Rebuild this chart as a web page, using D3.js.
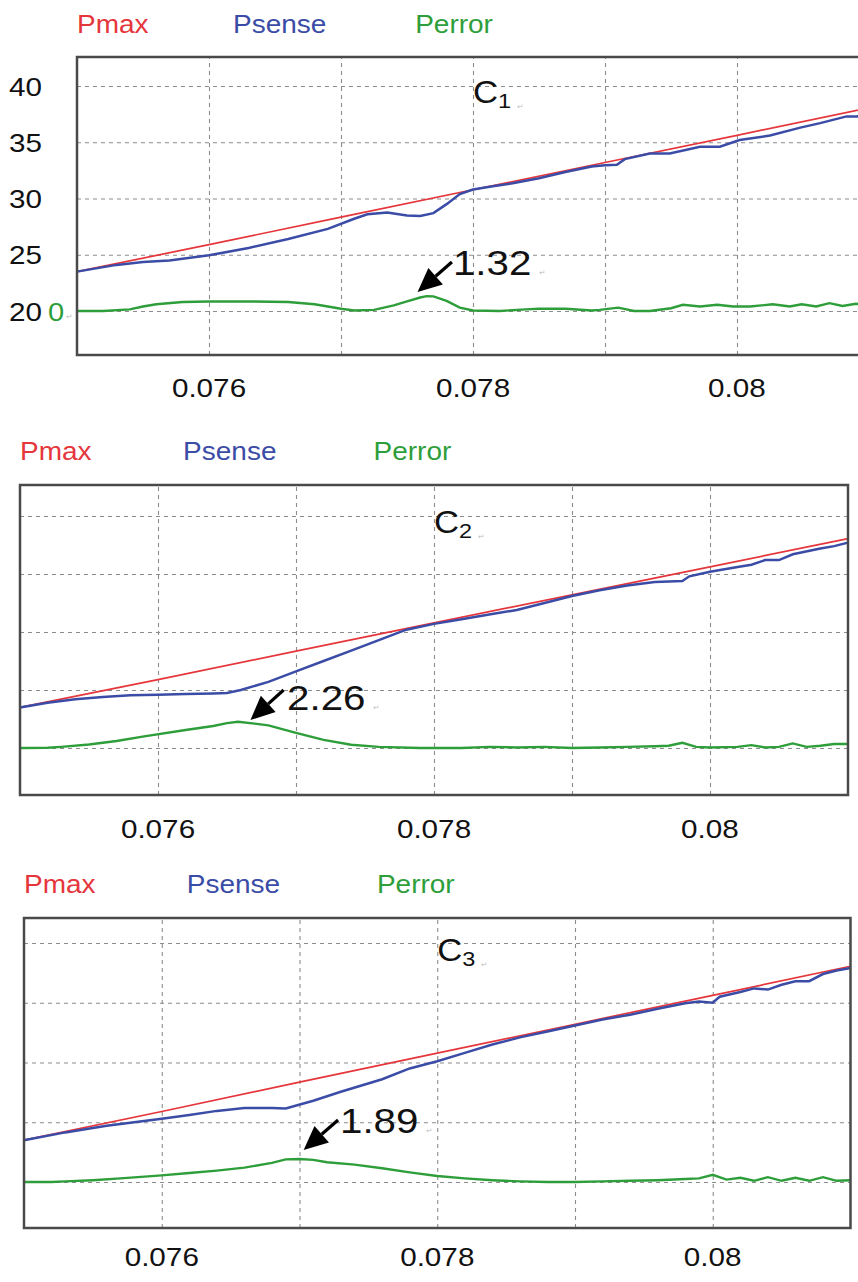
<!DOCTYPE html>
<html lang="en">
<head>
  <meta charset="utf-8">
  <title>Pmax / Psense / Perror</title>
  <script src="https://cdn.jsdelivr.net/npm/d3@7/dist/d3.min.js"></script>
  <style>
    body { margin: 0; background: #fff; }
    svg { display: block; }
  </style>
</head>
<body>
  <svg width="858" height="1282" id="mainsvg"></svg>
  <script>
    const svg = d3.select('#mainsvg');

    // ---- data ----
    const seriesNames = ['Pmax', 'Psense', 'Perror'];
    const xTicks = [0.076, 0.078, 0.08];
    const yTicks = [20, 25, 30, 35, 40];
    const errBase = 20;   // Perror is drawn with its zero on the 20 gridline

    // Pmax is the same ramp in the three cases
    const pmax = [
      [0.0750, 23.5], [0.0760, 25.9], [0.0770, 28.35], [0.0780, 30.78],
      [0.0790, 33.2], [0.0800, 35.62], [0.0810, 38.05]
    ];

    const senseC1 = [
      [0.0750, 23.5], [0.0753, 24.1], [0.0755, 24.35], [0.0757, 24.5], [0.0760, 24.95],
      [0.0763, 25.6], [0.0766, 26.4], [0.0769, 27.3], [0.0771, 28.2], [0.0772, 28.6],
      [0.07735, 28.75], [0.0775, 28.5], [0.0776, 28.45], [0.0777, 28.7], [0.0778, 29.5],
      [0.0779, 30.4], [0.0780, 30.8], [0.07815, 31.1], [0.0783, 31.35], [0.0785, 31.8],
      [0.0787, 32.35], [0.0789, 32.85], [0.0790, 32.95], [0.07909, 33.0], [0.07915, 33.5],
      [0.07934, 34.0], [0.07949, 34.0], [0.07972, 34.6], [0.07987, 34.6], [0.08002, 35.2],
      [0.08025, 35.6], [0.08048, 36.3], [0.08063, 36.7], [0.08083, 37.3], [0.08091, 37.3],
      [0.0810, 37.6]
    ];
    const errC1 = [
      [0.0750, 0], [0.0752, 0], [0.0754, 0.15], [0.0755, 0.4], [0.0756, 0.6], [0.0758, 0.8],
      [0.0760, 0.85], [0.0763, 0.85], [0.0766, 0.8], [0.0768, 0.6], [0.0770, 0.2],
      [0.0771, 0.05], [0.07725, 0.1], [0.0774, 0.5], [0.0775, 0.85], [0.0776, 1.2],
      [0.07765, 1.32], [0.0777, 1.3], [0.0778, 0.9], [0.0779, 0.3], [0.0780, 0.05],
      [0.0782, 0], [0.0784, 0.15], [0.0785, 0.2], [0.0787, 0.2], [0.0789, 0.05],
      [0.07896, 0.1], [0.0791, 0.3], [0.07922, 0], [0.07934, 0], [0.0795, 0.25],
      [0.07959, 0.55], [0.07972, 0.4], [0.07985, 0.55], [0.07997, 0.4], [0.0801, 0.4],
      [0.08027, 0.6], [0.0804, 0.4], [0.08049, 0.6], [0.0806, 0.4], [0.0807, 0.7],
      [0.0808, 0.45], [0.0809, 0.65], [0.0810, 0.5]
    ];

    const senseC2 = [
      [0.0750, 23.5], [0.0752, 23.9], [0.0754, 24.2], [0.0756, 24.4], [0.0758, 24.55],
      [0.0760, 24.6], [0.0762, 24.65], [0.0764, 24.7], [0.0765, 24.75], [0.0766, 25.0],
      [0.0768, 25.7], [0.0770, 26.6], [0.0772, 27.5], [0.0774, 28.4], [0.0776, 29.3],
      [0.0778, 30.2], [0.0780, 30.7], [0.0782, 31.1], [0.0784, 31.5], [0.0786, 31.9],
      [0.0788, 32.5], [0.0790, 33.1], [0.0792, 33.6], [0.0794, 34.0], [0.0796, 34.3],
      [0.0798, 34.4], [0.07985, 34.8], [0.0800, 35.2], [0.0802, 35.6], [0.0803, 35.8],
      [0.0804, 36.2], [0.0805, 36.2], [0.0806, 36.7], [0.0808, 37.2], [0.0809, 37.4],
      [0.0810, 37.7]
    ];
    const errC2 = [
      [0.0750, 0], [0.0752, 0.02], [0.0753, 0.1], [0.0755, 0.3], [0.0757, 0.6], [0.0759, 1.0],
      [0.0762, 1.55], [0.0764, 1.9], [0.0765, 2.15], [0.07658, 2.26], [0.0767, 2.1],
      [0.0768, 1.95], [0.0770, 1.3], [0.0772, 0.7], [0.0774, 0.28], [0.0776, 0.1],
      [0.0779, 0], [0.0782, 0], [0.0784, 0.1], [0.0786, 0.05], [0.0788, 0.1], [0.0790, 0],
      [0.0792, 0.05], [0.0794, 0.1], [0.0796, 0.15], [0.0797, 0.2], [0.0798, 0.45],
      [0.0799, 0.1], [0.0800, 0.05], [0.0802, 0.1], [0.0803, 0.25], [0.0804, 0.05],
      [0.0805, 0.1], [0.0806, 0.4], [0.0807, 0.1], [0.0808, 0.2], [0.0809, 0.35], [0.0810, 0.35]
    ];

    const senseC3 = [
      [0.0750, 23.5], [0.0753, 24.15], [0.0756, 24.7], [0.0758, 25.0], [0.0760, 25.3],
      [0.0762, 25.6], [0.0764, 25.95], [0.0766, 26.2], [0.0768, 26.2], [0.0769, 26.15],
      [0.0771, 26.8], [0.0773, 27.55], [0.0776, 28.6], [0.0778, 29.5], [0.0780, 30.1],
      [0.0782, 30.8], [0.0784, 31.5], [0.0786, 32.1], [0.0788, 32.6], [0.0790, 33.1],
      [0.0792, 33.6], [0.0794, 34.0], [0.0796, 34.5], [0.0798, 34.95], [0.0799, 35.1],
      [0.0800, 35.0], [0.08005, 35.5], [0.0802, 35.9], [0.0803, 36.2], [0.0804, 36.1],
      [0.0805, 36.5], [0.0806, 36.8], [0.0807, 36.8], [0.0808, 37.4], [0.0809, 37.7],
      [0.0810, 37.9]
    ];
    const errC3 = [
      [0.0750, 0], [0.0752, 0], [0.0753, 0.05], [0.0755, 0.15], [0.0757, 0.3], [0.0760, 0.55],
      [0.0762, 0.75], [0.0764, 0.95], [0.0766, 1.2], [0.0768, 1.6], [0.0769, 1.89],
      [0.0770, 1.92], [0.0771, 1.85], [0.0772, 1.65], [0.0774, 1.45], [0.0776, 1.15],
      [0.0778, 0.8], [0.0780, 0.5], [0.0782, 0.3], [0.0784, 0.15], [0.0786, 0.05],
      [0.0788, 0], [0.0790, 0], [0.0792, 0.05], [0.0794, 0.1], [0.0796, 0.15], [0.0798, 0.25],
      [0.0799, 0.3], [0.0800, 0.6], [0.0801, 0.2], [0.0802, 0.35], [0.0803, 0.1], [0.0804, 0.4],
      [0.0805, 0.1], [0.0806, 0.35], [0.0807, 0.1], [0.0808, 0.4], [0.0809, 0.1], [0.0810, 0.15]
    ];

    // case labels and peak-error callouts (arrow tip / tail / text anchor in data units)
    const caseNames = ['1', '2', '3'];
    const peakLabels = ['1.32', '2.26', '1.89'];
    const arrowTips = [[0.07758, 21.69], [0.07667, 22.41], [0.07703, 22.68]];
    const arrowTails = [[0.07784, 24.36], [0.07691, 25.0], [0.07728, 25.19]];
    const labelPos = [[0.077848, 23.2], [0.076935, 23.28], [0.077294, 24.1]];

    // ---- layout ----
    const colors = { Pmax: '#e5363c', Psense: '#3b4ca6', Perror: '#2e9e3a' };
    const font = '"Liberation Sans", Arial, sans-serif';
    const sx = 1.12; // the source picture is a little stretched sideways
    const panels = [
      { left: 77, right: 869, top: 57, bottom: 355, yMin: 16.09, yMax: 42.58, legendY: 33, tickY: 397, showY: true,
        sense: senseC1, err: errC1 },
      { left: 20, right: 848, top: 485, bottom: 795, yMin: 15.95, yMax: 42.67, legendY: 460, tickY: 838, showY: false,
        sense: senseC2, err: errC2 },
      { left: 24, right: 850.5, top: 918, bottom: 1228, yMin: 16.15, yMax: 42.09, legendY: 893, tickY: 1266, showY: false,
        sense: senseC3, err: errC3 }
    ];

    const addText = function (g, x, y, str, size, fill, anchor) {
      return g.append('text')
        .attr('transform', `translate(${x}, ${y}) scale(${sx}, 1)`)
        .attr('font-family', font)
        .attr('font-size', size)
        .attr('fill', fill)
        .attr('text-anchor', anchor || 'start')
        .text(str);
    };

    const renderPanel = function (p, i) {
      const xScale = d3.scaleLinear().domain([0.075, 0.081]).range([p.left, p.right]);
      const yScale = d3.scaleLinear().domain([p.yMin, p.yMax]).range([p.bottom, p.top]);
      const g = svg.append('g').attr('class', 'panel');

      // legend
      const w = p.right - p.left;
      const legendOffsets = [0, 0.197, 0.427];
      seriesNames.forEach((name, k) => {
        addText(g, p.left + legendOffsets[k] * w, p.legendY, name, 25, colors[name]);
      });

      // grid
      const xAxis = d3.axisBottom(xScale)
        .tickValues(d3.range(0.076, 0.0805, 0.001))
        .tickSize(-(p.bottom - p.top)).tickFormat('');
      const yAxis = d3.axisLeft(yScale)
        .tickValues(yTicks).tickSize(-w).tickFormat('');
      const gx = g.append('g').attr('transform', `translate(0, ${p.bottom})`).call(xAxis);
      const gy = g.append('g').attr('transform', `translate(${p.left}, 0)`).call(yAxis);
      [gx, gy].forEach(a => {
        a.selectAll('.domain').remove();
        a.selectAll('.tick line')
          .attr('stroke', '#8c8c8c')
          .attr('stroke-width', 1.1)
          .attr('stroke-dasharray', '4,4');
      });

      // x tick labels
      xTicks.forEach(t => {
        addText(g, xScale(t), p.tickY, String(t), 26.5, '#111', 'middle');
      });

      // y tick labels (first case only)
      if (p.showY) {
        yTicks.forEach(t => {
          addText(g, 42, yScale(t) + 9.5, String(t), 26.5, '#111', 'end');
        });
        addText(g, 48, yScale(errBase) + 9.5, '0', 26, colors.Perror);
        addText(g, 66, yScale(errBase) + 8, '\u21b5', 7, '#bbb');
      }

      // lines
      const line = d3.line().x(d => xScale(d[0])).y(d => yScale(d[1]));
      const errLine = d3.line().x(d => xScale(d[0])).y(d => yScale(errBase + d[1]));
      g.append('path').datum(p.err).attr('d', errLine)
        .attr('fill', 'none').attr('stroke', colors.Perror).attr('stroke-width', 2.4);
      g.append('path').datum(pmax).attr('d', line)
        .attr('fill', 'none').attr('stroke', colors.Pmax).attr('stroke-width', 1.7);
      g.append('path').datum(p.sense).attr('d', line)
        .attr('fill', 'none').attr('stroke', colors.Psense).attr('stroke-width', 2.5);

      // frame
      g.append('rect')
        .attr('x', p.left).attr('y', p.top)
        .attr('width', w).attr('height', p.bottom - p.top)
        .attr('fill', 'none').attr('stroke', '#4a4a4a').attr('stroke-width', 2.5);

      // case label  C1 / C2 / C3
      const cx = xScale(0.078), cy = yScale(38.5);
      const ct = addText(g, cx, cy, '', 31, '#111');
      ct.append('tspan').text('C');
      ct.append('tspan').attr('font-size', 21).attr('dy', 5).text(caseNames[i]);
      addText(g, cx + 44, cy + 6, '\u21b5', 7, '#bbb');

      // peak error callout
      const tip = [xScale(arrowTips[i][0]), yScale(arrowTips[i][1])];
      const tail = [xScale(arrowTails[i][0]), yScale(arrowTails[i][1])];
      const ang = Math.atan2(tail[1] - tip[1], tail[0] - tip[0]);
      const headLen = 24, headHalf = 11;
      const bx = tip[0] + headLen * Math.cos(ang), by = tip[1] + headLen * Math.sin(ang);
      g.append('line')
        .attr('x1', tail[0]).attr('y1', tail[1]).attr('x2', bx).attr('y2', by)
        .attr('stroke', '#000').attr('stroke-width', 3.2);
      const nx = -Math.sin(ang), ny = Math.cos(ang);
      g.append('path')
        .attr('d', `M${tip[0]},${tip[1]}L${bx + nx * headHalf},${by + ny * headHalf}L${bx - nx * headHalf},${by - ny * headHalf}Z`)
        .attr('fill', '#000');
      const lx = xScale(labelPos[i][0]), ly = yScale(labelPos[i][1]);
      addText(g, lx, ly, peakLabels[i], 36, '#111');
      addText(g, lx + 86, ly, '\u21b5', 7, '#bbb');
    };

    panels.forEach(renderPanel);
  </script>
</body>
</html>
